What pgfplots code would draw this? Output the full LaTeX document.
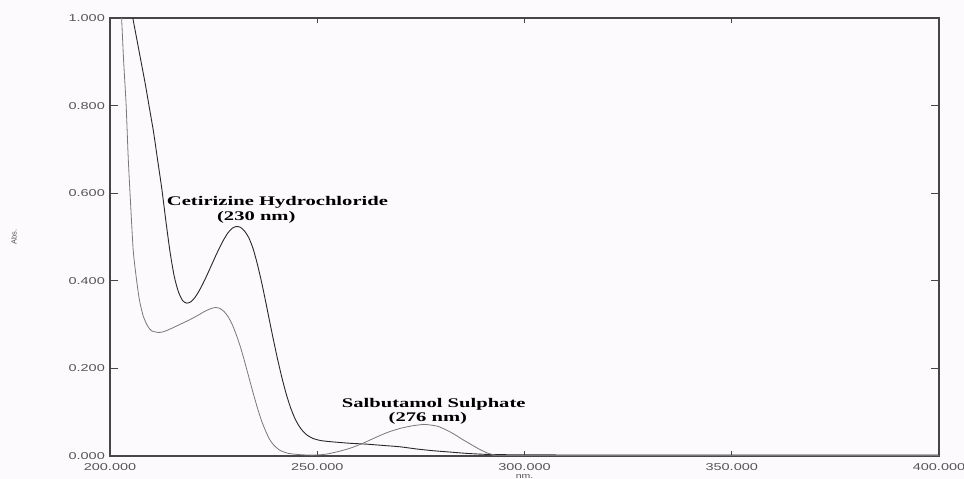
\documentclass[border=0pt]{standalone}
\usepackage{pgfplots}
\pgfplotsset{compat=1.18}
\usepackage{fontspec}
\setmainfont{Liberation Sans}
\newfontfamily\timesfont{Liberation Serif}
\definecolor{bg}{RGB}{253,250,253}
\definecolor{axgray}{RGB}{70,70,70}
\definecolor{lblgray}{RGB}{85,85,85}
\definecolor{darkline}{RGB}{40,40,40}
\definecolor{lightline}{RGB}{120,120,120}
\begin{document}
\begin{tikzpicture}
\useasboundingbox[fill=bg] (-110pt,-23pt) rectangle (854pt,456pt);
\begin{axis}[
  at={(0,0)}, anchor=south west,
  scale only axis, width=829pt, height=438pt,
  xmin=200, xmax=400, ymin=0, ymax=1,
  xtick={200,250,300,350,400},
  ytick={0,0.2,0.4,0.6,0.8,1},
  xticklabels={200.000,250.000,300.000,350.000,400.000},
  yticklabels={0.000,0.200,0.400,0.600,0.800,1.000},
  tick align=inside,
  xtick style={/pgfplots/major tick length=5pt, axgray, line width=0.8pt},
  ytick style={/pgfplots/major tick length=8pt, axgray, line width=0.8pt},
  axis line style={axgray, line width=1.1pt},
  tick label style={font=\fontsize{10}{12}\selectfont, text=lblgray, xscale=1.45},
  x tick label style={yshift=-4pt},
  xlabel={nm.},
  every axis x label/.style={at={(axis description cs:0.5,0)}, anchor=center, yshift=-20pt, font=\fontsize{7.5}{9}\selectfont, text=lblgray, xscale=1.4},
  ylabel={Abs.},
  every axis y label/.style={at={(axis description cs:0,0.5)}, anchor=center, xshift=-96pt, rotate=90, font=\fontsize{7.5}{9}\selectfont, text=lblgray},
  clip=true,
]
% Cetirizine Hydrochloride (upper, darker)
\addplot[darkline, line width=0.9pt, smooth, tension=0.4] coordinates {
(205.5,1.00) (206.5,0.95) (207.5,0.90) (208.5,0.85) (209.5,0.795) (210.5,0.74)
(211.5,0.675) (212.5,0.61) (213.5,0.535) (214.5,0.465) (215.5,0.41) (216.5,0.375)
(217.5,0.355) (218.5,0.349) (219.5,0.352) (220.5,0.362) (221.5,0.377) (222.5,0.395)
(223.5,0.415) (224.5,0.436) (225.5,0.457) (226.5,0.477) (227.5,0.495) (228.5,0.510)
(229.5,0.520) (230.5,0.524) (231.5,0.522) (232.5,0.513) (233.5,0.498) (234.5,0.474)
(235.5,0.440) (236.5,0.400) (237.5,0.355) (238.5,0.308) (239.5,0.262) (240.5,0.218)
(241.5,0.178) (242.5,0.142) (243.5,0.112) (244.5,0.088) (245.5,0.070) (246.5,0.057)
(247.5,0.048) (249,0.040) (251,0.035) (254,0.032) (258,0.029) (262,0.027)
(266,0.024) (270,0.021) (274,0.016) (278,0.012) (282,0.009) (286,0.006)
(290,0.004) (295,0.003) (320,0.002) (360,0.002) (400,0.002)
};
% Salbutamol Sulphate (lower, lighter)
\addplot[lightline, line width=0.8pt, smooth, tension=0.4] coordinates {
(202.8,1.00) (203.3,0.90) (203.9,0.80) (204.4,0.68) (205.0,0.57) (205.6,0.47)
(206.3,0.41) (207.1,0.356) (208,0.32) (209,0.298) (210,0.286) (211.7,0.282)
(213,0.284) (215,0.292) (217,0.301) (219,0.310) (221,0.320) (223,0.331)
(224.5,0.337) (225.5,0.339) (226.5,0.337) (227.5,0.330) (228.5,0.318) (229.5,0.300)
(230.5,0.276) (231.5,0.248) (232.5,0.215) (233.5,0.180) (234.5,0.145) (235.5,0.112)
(236.5,0.082) (237.5,0.058) (238.5,0.038) (239.5,0.025) (241,0.013) (243,0.006)
(246,0.003) (249,0.002) (252,0.004) (255,0.010) (258,0.018) (261,0.029)
(264,0.042) (267,0.054) (270,0.063) (273,0.069) (276,0.072) (279,0.068)
(281,0.060) (283,0.050) (285,0.038) (287,0.027) (289,0.016) (291,0.007)
(293,0.002) (296,0.001) (340,0.001) (400,0.001)
};
\node[font=\timesfont\bfseries\fontsize{13.2}{15}\selectfont, xscale=1.56, inner sep=0pt] at (axis cs:240.4,0.579) {Cetirizine Hydrochloride};
\node[font=\timesfont\bfseries\fontsize{13.2}{15}\selectfont, xscale=1.56, inner sep=0pt] at (axis cs:235.3,0.545) {(230 nm)};
\node[font=\timesfont\bfseries\fontsize{13.2}{15}\selectfont, xscale=1.56, inner sep=0pt] at (axis cs:278.1,0.119) {Salbutamol Sulphate};
\node[font=\timesfont\bfseries\fontsize{13.2}{15}\selectfont, xscale=1.56, inner sep=0pt] at (axis cs:276.7,0.087) {(276 nm)};
\end{axis}
\end{tikzpicture}
\end{document}
